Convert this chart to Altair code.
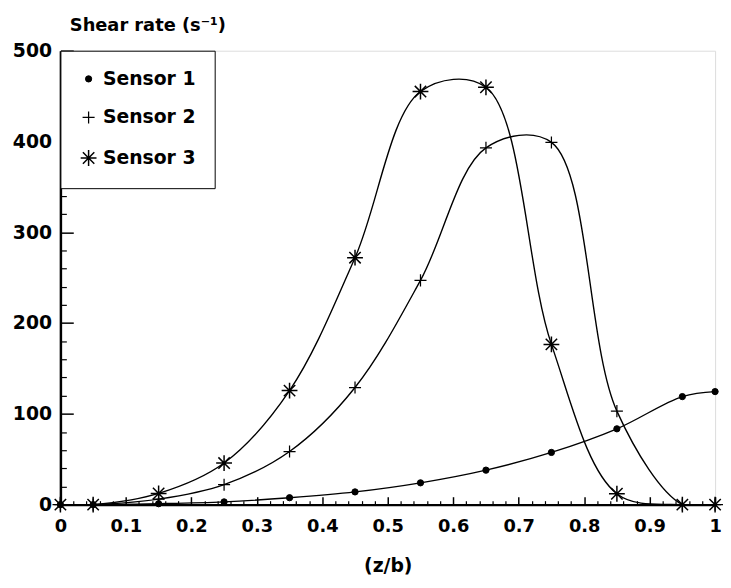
import altair as alt
import pandas as pd

# ---- data ----
x_vals = [0, 0.05, 0.15, 0.25, 0.35, 0.45, 0.55, 0.65, 0.75, 0.85, 0.95, 1.0]
sensor1 = [0, 0, 1, 3, 7.6, 14, 24, 38, 57.5, 83.5, 119, 124.5]
sensor2 = [0, 0, 6, 22, 58.5, 129, 247, 393, 399, 103, 0, 0]
sensor3 = [0, 0, 12.3, 45.8, 125.6, 272, 455, 459.7, 176.5, 12, 0, 0]
series_names = ["Sensor 1", "Sensor 2", "Sensor 3"]

x_label_values = [0, 0.1, 0.2, 0.3, 0.4, 0.5, 0.6, 0.7, 0.8, 0.9, 1.0]
y_label_values = [0, 100, 200, 300, 400, 500]
x_minor_values = [0.02, 0.04, 0.06, 0.08, 0.12, 0.14, 0.16, 0.18, 0.22, 0.24, 0.26, 0.28,
                  0.32, 0.34, 0.36, 0.38, 0.42, 0.44, 0.46, 0.48, 0.52, 0.54, 0.56, 0.58,
                  0.62, 0.64, 0.66, 0.68, 0.72, 0.74, 0.76, 0.78, 0.82, 0.84, 0.86, 0.88,
                  0.92, 0.94, 0.96, 0.98]
y_minor_values = [20, 40, 60, 80, 120, 140, 160, 180, 220, 240, 260, 280,
                  320, 340, 360, 380, 420, 440, 460, 480]

rows = []
for name, vals in zip(series_names, [sensor1, sensor2, sensor3]):
    for xv, yv in zip(x_vals, vals):
        rows.append({"x": xv, "y": yv, "series": name})
df = pd.DataFrame(rows)

FONT = "DejaVu Sans"
PLUS = "M-1,0L1,0M0,-1L0,1"
STAR = "M-1,0L1,0M0,-1L0,1M-0.72,-0.72L0.72,0.72M-0.72,0.72L0.72,-0.72"

xs = alt.Scale(domain=[0, 1], nice=False)
ys = alt.Scale(domain=[0, 500], nice=False)

base = alt.Chart(df)

lines = base.mark_line(interpolate="catmull-rom", color="black", strokeWidth=1.4, clip=True).encode(
    x=alt.X("x:Q", scale=xs, axis=alt.Axis(
        orient="bottom", values=x_label_values, ticks=False, grid=False,
        domain=True, domainColor="black", domainWidth=2.5,
        labelExpr="datum.value == 0 ? '0' : (datum.value == 1 ? '1' : format(datum.value, '.1f'))",
        labelFont=FONT, labelFontSize=18, labelFontWeight="bold", labelColor="black",
        labelPadding=13, labelFlush=False,
        title="(z/b)", titleFont=FONT, titleFontSize=19, titleFontWeight="bold", titleColor="black",
        titleBaseline="middle", titleY=62)),
    y=alt.Y("y:Q", scale=ys, axis=alt.Axis(
        orient="left", values=y_label_values, ticks=False, grid=False,
        domain=True, domainColor="black", domainWidth=2.5,
        labelFont=FONT, labelFontSize=19, labelFontWeight="bold", labelColor="black",
        labelPadding=9, labelFlush=False,
        title="Shear rate (s\u207b\u00b9)", titleFont=FONT, titleFontSize=18, titleFontWeight="bold",
        titleColor="black", titleAngle=0, titleAlign="left", titleBaseline="middle",
        titleX=9, titleY=-25)),
    detail="series:N",
)

points = base.mark_point(filled=True, fill="black", stroke="black", opacity=1).encode(
    x=alt.X("x:Q", scale=xs, axis=alt.Axis(
        orient="bottom", values=x_label_values, labels=False, domain=False, grid=False,
        ticks=True, tickSize=8, offset=-8, tickColor="black", tickWidth=1.5, title=None)),
    y=alt.Y("y:Q", scale=ys, axis=alt.Axis(
        orient="left", values=y_label_values, labels=False, domain=False, grid=False,
        ticks=True, tickSize=13, offset=-13, tickColor="black", tickWidth=1.5, title=None)),
    shape=alt.Shape("series:N", scale=alt.Scale(domain=series_names, range=["circle", PLUS, STAR]),
                    legend=alt.Legend(
                        orient="top-left", offset=0, title=None, padding=19, rowPadding=19,
                        strokeColor="black", fillColor="white",
                        labelFont=FONT, labelFontSize=19, labelFontWeight="bold", labelColor="black",
                        labelOffset=5,
                        symbolFillColor="black", symbolStrokeColor="black")),
    size=alt.Size("series:N", scale=alt.Scale(domain=series_names, range=[40, 256, 225])),
    strokeWidth=alt.StrokeWidth("series:N", scale=alt.Scale(domain=series_names, range=[1, 1.5, 2.2])),
)

minor = base.mark_point(opacity=0).encode(
    x=alt.X("x:Q", scale=xs, axis=alt.Axis(
        orient="bottom", values=x_minor_values, labels=False, domain=False, grid=False,
        ticks=True, tickSize=4, offset=-4, tickColor="black", tickWidth=1.2, title=None)),
    y=alt.Y("y:Q", scale=ys, axis=alt.Axis(
        orient="left", values=y_minor_values, labels=False, domain=False, grid=False,
        ticks=True, tickSize=6, offset=-6, tickColor="black", tickWidth=1.2, title=None)),
)

chart = alt.layer(lines, points, minor).resolve_axis(
    x="independent", y="independent"
).properties(
    width=662, height=459,
    padding={"left": 53, "top": 40, "right": 8, "bottom": 70},
    autosize="none",
).configure_view(
    stroke="black", strokeWidth=1.6
).configure(background="white")

chart.save("out.html", embed_options={"renderer": "svg", "actions": False})
